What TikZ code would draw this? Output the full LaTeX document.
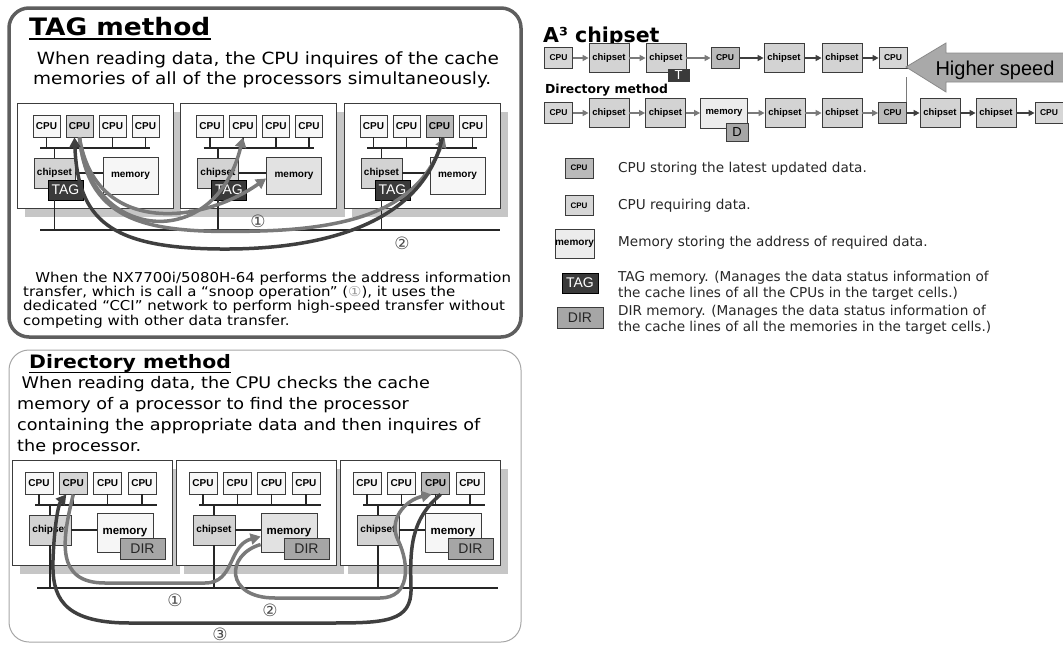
\documentclass[tikz,border=0pt]{standalone}
\usepackage{fontspec}
\setmainfont{DejaVu Sans}
\newfontfamily\widesans{DejaVu Sans}[FakeStretch=1.1]
\newfontfamily\arial{Liberation Sans}
\usetikzlibrary{arrows.meta}

\definecolor{cpuplain}{HTML}{F7F7F7}
\definecolor{cpuask}{HTML}{D6D6D6}
\definecolor{cpuhold}{HTML}{BABABA}
\definecolor{chipfill}{HTML}{D3D3D3}
\definecolor{memplain}{HTML}{F6F6F6}
\definecolor{memaddr}{HTML}{E2E2E2}
\definecolor{memlight}{HTML}{ECECEC}
\definecolor{tagfill}{HTML}{3A3A3A}
\definecolor{dirfill}{HTML}{A6A6A6}
\definecolor{boxline}{HTML}{3C3C3C}
\definecolor{askline}{HTML}{7A7A7A}
\definecolor{holdline}{HTML}{3F3F3F}
\definecolor{shadowgray}{HTML}{C6C6C6}
\definecolor{frameline}{HTML}{5E5E5E}
\definecolor{speedfill}{HTML}{A9A9A9}
\definecolor{speedline}{HTML}{8A8A8A}

\newcommand\fsz[2]{\fontsize{#1}{#2}\selectfont}

\begin{document}
\begin{tikzpicture}[x=1pt,y=-1pt,
    unitbox/.style={draw=boxline,line width=0.8pt,inner sep=0pt,
      font=\arial\bfseries\fsz{10}{10}},
    cpubox/.style={unitbox,fill=cpuplain,minimum width=27pt,minimum height=22pt},
    chipbox/.style={unitbox,fill=chipfill,minimum width=41pt,minimum height=30pt},
    membox/.style={unitbox,fill=memplain,minimum width=55pt,minimum height=37pt},
    tagbox/.style={unitbox,draw=black,fill=tagfill,text=white,font=\arial\fsz{14}{14},
      minimum width=35pt,minimum height=20pt},
    dirbox/.style={unitbox,fill=dirfill,text=black!85,font=\arial\fsz{14}{14},
      minimum width=45pt,minimum height=21pt},
    rcpu/.style={unitbox,fill=cpuask,font=\arial\bfseries\fsz{8.5}{8.5},
      minimum width=28pt,minimum height=21pt},
    rhold/.style={rcpu,fill=cpuhold},
    rchip/.style={unitbox,fill=chipfill,font=\arial\bfseries\fsz{9.5}{9.5},
      minimum width=40pt,minimum height=29pt},
    rmem/.style={unitbox,fill=memlight,font=\arial\bfseries\fsz{9.5}{9.5},
      minimum width=47pt,minimum height=30pt},
    panel/.style={draw=boxline,line width=0.8pt,fill=white},
    wire/.style={line width=1.3pt,black!85},
    ask/.style={askline,line width=3.5pt,-{Triangle[length=10pt,width=11pt]}},
    hold/.style={holdline,line width=3.5pt,-{Triangle[length=10pt,width=11pt]}},
    askflow/.style={askline,line width=1.5pt,-{Triangle[length=6pt,width=6pt]}},
    holdflow/.style={holdline,line width=1.5pt,-{Triangle[length=6pt,width=6pt]}},
    stepno/.style={text=black!70,inner sep=0pt,font=\fsz{17}{17}},
    heading/.style={anchor=base west,inner sep=0pt},
    prose/.style={anchor=base west,inner sep=0pt,align=left},
    legendtext/.style={anchor=base west,inner sep=0pt,align=left,text=black!85,
      font=\fsz{13.6}{16.5}},
  ]
  \useasboundingbox (0,0) rectangle (1063,645);

  % ---------- TAG method ----------
  % (multi-line text nodes sit on the baseline of their last line)
  \draw[frameline,line width=3.5pt,rounded corners=20pt] (9,8) rectangle (521,337);
  \node[heading,font=\widesans\bfseries\fsz{24}{24}] (ttitle) at (29,35) {TAG method};
  \draw[line width=1.7pt] ([yshift=-4pt]ttitle.base west) -- ([yshift=-4pt]ttitle.base east);
  \node[prose,font=\widesans\fsz{16.8}{20}] (tintro) at (33,84)
    {\hspace*{0.22em}When reading data, the CPU inquires of the cache\\
     memories of all of the processors simultaneously.};

  \coordinate (cciL) at (40,230);
  \coordinate (cciR) at (500,230);
  \draw[wire] (cciL) -- (cciR);

  % three cells, each with its TAG on the CCI network
  \foreach \p/\hc/\hcol/\mcol in {1/2/cpuask/memplain,2/0/cpuplain/memaddr,3/3/cpuhold/memplain}{
    \pgfmathsetmacro\xo{17+163.5*(\p-1)}
    \begin{scope}[shift={(\xo,103)}]
      \fill[shadowgray] (8,9) rectangle (164,114);
      \draw[panel] (0,0) rectangle (156,105);
      \coordinate (t\p bus) at (23,45);
      \draw[wire] (t\p bus) -- (133,45);
      \foreach \c in {1,...,4}{
        \ifnum\c=\hc\relax\def\cf{\hcol}\else\def\cf{cpuplain}\fi
        \node[cpubox,fill=\cf] (t\p c\c) at ({29.5+33*(\c-1)},23) {CPU};
        \draw[wire] (t\p c\c.south) -- (t\p c\c.south |- t\p bus);
      }
      \node[chipbox] (t\p chip) at (37.5,70) {chipset};
      \node[membox,fill=\mcol] (t\p mem) at (113.5,72.5) {memory};
      \draw[wire] (t\p chip.north) -- (t\p chip.north |- t\p bus);
      \draw[wire] (t\p chip.east) -- (t\p chip.east -| t\p mem.west);
      \node[tagbox] (t\p tag) at (48.5,87) {TAG};
      \draw[wire] (t\p chip.south |- t\p tag.south) -- (t\p chip.south |- cciL);
    \end{scope}
  }

  % snoop requests (1) and the data reply (2)
  \draw[ask] (t1c2.south) .. controls (88,240) and (215,255) .. (t2c2.south);
  \draw[ask] (t1c2.south) .. controls (95,235) and (200,225) .. ([yshift=-3pt]t2mem.west);
  \draw[ask] (t1c2.south) .. controls (88,225) and (150,234) .. (260,231)
    .. controls (370,228) and (420,200) .. ([xshift=5pt]t3c3.south);
  \draw[hold] ([xshift=3pt]t3c3.south) .. controls (425,215) and (340,250) .. (220,249)
    .. controls (110,248) and (78,220) .. ([xshift=-5pt]t1c2.south);
  \node[stepno] (tone) at (258,221) {①};
  \node[stepno] (ttwo) at (402,243) {②};

  \node[prose,font=\widesans\fsz{13.6}{14.3}] (tnote) at (23,325)
    {\hspace*{0.9em}When the NX7700i/5080H-64 performs the address information\\
     transfer, which is call a “snoop operation” ({\color{black!40}①}), it uses the\\
     dedicated “CCI” network to perform high-speed transfer without\\
     competing with other data transfer.};

  % ---------- Directory method ----------
  \draw[black!35,line width=1pt,rounded corners=20pt] (9,350) rectangle (521,642);
  \node[heading,font=\widesans\bfseries\fsz{18.5}{18.5}] (dtitle) at (29,368) {Directory method};
  \draw[line width=1.4pt] ([yshift=-4.5pt]dtitle.base west) -- ([yshift=-4.5pt]dtitle.base east);
  \node[prose,font=\widesans\fsz{16}{21}] (dintro) at (17,451)
    {\hspace*{0.28em}When reading data, the CPU checks the cache\\
     memory of a processor to find the processor\\
     containing the appropriate data and then inquires of\\
     the processor.};

  \coordinate (busL) at (37,588);
  \coordinate (busR) at (498,588);
  \draw[wire] (busL) -- (busR);

  \foreach \p/\hc/\hcol/\mcol in {1/2/cpuask/memplain,2/0/cpuplain/memaddr,3/3/cpuhold/memplain}{
    \pgfmathsetmacro\xo{12+164*(\p-1)}
    \begin{scope}[shift={(\xo,460)}]
      \fill[shadowgray] (8,9) rectangle (168,114);
      \draw[panel] (0,0) rectangle (160,105);
      \coordinate (d\p bus) at (23,45);
      \draw[wire] (d\p bus) -- (145,45);
      \foreach \c in {1,...,4}{
        \ifnum\c=\hc\relax\def\cf{\hcol}\else\def\cf{cpuplain}\fi
        \node[cpubox,minimum width=28pt,fill=\cf] (d\p c\c) at ({27+34.3*(\c-1)},23) {CPU};
        \draw[wire] (d\p c\c.south) -- (d\p c\c.south |- d\p bus);
      }
      \node[chipbox,minimum width=42pt] (d\p chip) at (38,70) {chipset};
      \node[membox,minimum width=56pt,minimum height=39pt,fill=\mcol,
        font=\arial\bfseries\fsz{11.5}{11.5}] (d\p mem) at (113,72.5) {memory};
      \draw[wire] (d\p chip.north) -- (d\p chip.north |- d\p bus);
      \draw[wire] (d\p chip.east) -- (d\p chip.east -| d\p mem.west);
      \draw[wire] (d\p chip.south) -- (d\p chip.south |- busL);
      \node[dirbox] (d\p dir) at (130.5,88.5) {DIR};
    \end{scope}
  }

  % ask the home memory (1), forward to the owner (2), reply (3)
  \draw[ask] (d1c2.south) .. controls (62,540) and (55,583) .. (105,583) -- (205,583)
    .. controls (235,583) and (228,545) .. ([yshift=-4pt]d2mem.west);
  \draw[ask] ([yshift=-12pt]d2mem.west) .. controls (225,555) and (225,598) .. (275,598)
    -- (380,598) .. controls (410,598) and (410,565) .. (398,540)
    .. controls (388,520) and (405,500) .. ([xshift=-4pt]d3c3.south);
  \draw[hold] ([xshift=5pt]d3c3.south) .. controls (410,520) and (410,550) .. (411,588)
    .. controls (412,622) and (385,623) .. (330,623) -- (130,623)
    .. controls (60,623) and (52,595) .. (53,560)
    .. controls (54,530) and (58,505) .. ([xshift=-7pt]d1c2.south);
  \node[stepno] (done) at (175,600) {①};
  \node[stepno] (dtwo) at (270,610) {②};
  \node[stepno] (dthree) at (220,634) {③};

  % ---------- access paths ----------
  \node[heading,font=\bfseries\fsz{20.5}{20.5}] (atitle) at (543,42) {A³ chipset};
  \foreach \n/\s/\x/\t in {a/rcpu/558.5/CPU,b/rchip/609/chipset,c/rchip/666/chipset,
      d/rhold/725/CPU,e/rchip/784/chipset,f/rchip/842/chipset,g/rcpu/893/CPU}
    \node[\s] (r1\n) at (\x,58) {\t};
  \node[unitbox,fill=tagfill,text=white,font=\arial\fsz{13}{13},
    minimum width=21pt,minimum height=12pt] (r1tag) at (678.5,75) {T};

  \node[heading,font=\bfseries\fsz{12.4}{12.4}] (rtitle) at (545,93) {Directory method};
  \foreach \n/\s/\x/\t in {a/rcpu/558.5/CPU,b/rchip/609/chipset,c/rchip/665.5/chipset,
      d/rmem/724/memory,e/rchip/785/chipset,f/rchip/842/chipset,g/rhold/892.5/CPU,
      h/rchip/940/chipset,i/rchip/996/chipset,j/rcpu/1049/CPU}
    \node[\s] (r2\n) at (\x,113) {\t};
  \node[unitbox,fill=dirfill,font=\arial\fsz{13}{13},
    minimum width=22pt,minimum height=18pt] (r2dir) at (737,132) {D};

  \foreach \a/\b/\k in {r1a/r1b/askflow,r1b/r1c/askflow,r1c/r1d/askflow,
      r1d/r1e/holdflow,r1e/r1f/holdflow,r1f/r1g/holdflow,
      r2a/r2b/askflow,r2b/r2c/askflow,r2c/r2d/askflow,r2d/r2e/askflow,
      r2e/r2f/askflow,r2f/r2g/askflow,r2g/r2h/holdflow,r2h/r2i/holdflow,r2i/r2j/holdflow}
    \draw[\k] (\a) -- (\b);

  \draw[speedline,fill=speedfill,line width=0.8pt] (906,67) -- (946,43) -- (946,53)
    -- (1064,53) -- (1064,82) -- (946,82) -- (946,92) -- cycle;
  \node[anchor=base,inner sep=0pt,font=\arial\fsz{20}{20}] (speed) at (995,75) {Higher speed};
  \coordinate (speedfoot) at (906.5,77);
  \draw[askline,line width=1.5pt] (speedfoot) -- (speedfoot |- r2g.north);

  % ---------- key ----------
  \node[rhold,minimum width=28pt,minimum height=20pt,font=\arial\bfseries\fsz{8}{8}] (lghold) at (579,168) {CPU};
  \node[rcpu,minimum width=28pt,minimum height=20pt,font=\arial\bfseries\fsz{8}{8}] (lgask) at (579,205.5) {CPU};
  \node[rmem,minimum width=37pt,minimum height=29pt,font=\arial\bfseries\fsz{10}{10}] (lgmem) at (574.5,243.5) {memory};
  \node[tagbox,minimum width=36pt] (lgtag) at (580,283) {TAG};
  \node[dirbox,minimum width=46pt] (lgdir) at (580,317.5) {DIR};
  \node[legendtext] (lgholdtxt) at (618,172) {CPU storing the latest updated data.};
  \node[legendtext] (lgasktxt) at (618,209) {CPU requiring data.};
  \node[legendtext] (lgmemtxt) at (618,246) {Memory storing the address of required data.};
  \node[legendtext] (lgtagtxt) at (618,297.5)
    {TAG memory. (Manages the data status information of\\
     the cache lines of all the CPUs in the target cells.)};
  \node[legendtext] (lgdirtxt) at (618,331.5)
    {DIR memory. (Manages the data status information of\\
     the cache lines of all the memories in the target cells.)};
\end{tikzpicture}
\end{document}
